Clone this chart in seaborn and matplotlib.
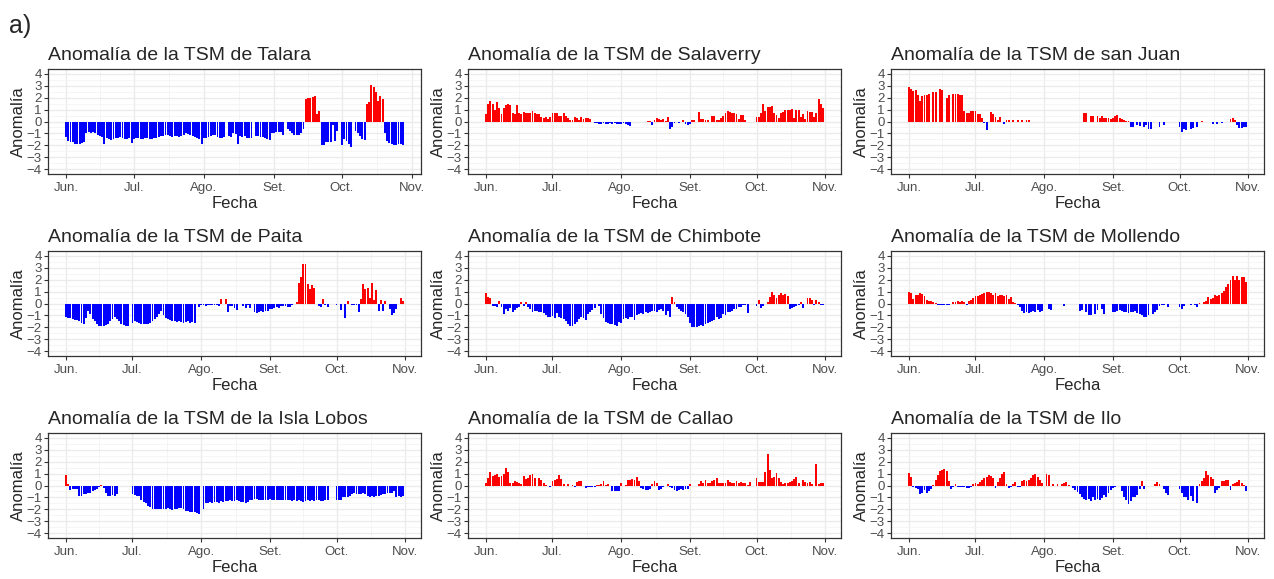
import numpy as np
import pandas as pd
import matplotlib
matplotlib.use('Agg')
import matplotlib.pyplot as plt
import seaborn as sns

n = np.nan

# anomalias diarias de la TSM, dia 0 = 1 de junio
talara = [-1.3,-1.6,-1.7,-1.75,-1.9,-1.85,-1.85,-1.8,-1.75,-0.95,
          -0.9,-0.95,-0.9,-1.0,-1.15,-1.25,-1.3,-1.9,-1.35,-1.45,
          -1.55,-1.5,-1.4,-1.35,-1.3,-1.4,-1.5,-1.45,-1.4,-1.8,
          -1.5,-1.4,-1.35,-1.45,-1.5,-1.4,-1.35,-1.5,-1.45,-1.4,
          -1.35,-1.3,-1.25,-1.2,-1.1,-1.15,-1.2,-1.3,-1.25,-1.2,
          -1.3,-1.25,-1.15,-1.0,-1.05,-1.1,-1.2,-1.3,-1.4,-1.5,
          -1.9,-1.4,-1.35,-1.3,-1.25,-1.15,-1.1,-1.3,-1.35,-1.4,
          -1.3,n,-1.2,-1.3,-1.0,-1.05,-1.9,-1.2,-1.3,-1.25,
          -1.35,-1.4,-1.4,n,-1.2,-1.25,-1.3,-1.3,-1.4,-1.5,
          -1.55,-0.95,-0.95,-0.9,-0.85,-0.9,-1.1,n,-0.6,-0.8,
          -1.0,-1.1,-1.15,-1.1,-1.0,-0.6,1.85,2.0,1.95,2.05,
          2.15,0.6,0.9,-1.95,-2.0,-1.7,-1.75,-1.7,-0.3,-1.6,
          -0.8,n,-2.0,-1.5,-1.6,-1.85,-2.1,n,-0.8,-1.0,
          -1.2,-1.5,-1.55,1.5,1.6,3.1,2.9,2.45,1.75,2.1,
          1.85,-1.0,-1.6,-1.8,-1.9,-2.0,-2.0,-1.85,-1.9,-2.0]

salaverry = [0.6,1.5,1.75,1.45,1.0,1.65,1.1,0.65,1.1,1.4,
             1.45,1.35,0.75,0.65,1.35,0.7,0.65,0.8,0.7,0.7,
             0.7,0.85,0.75,0.65,0.65,0.35,0.3,0.4,0.25,0.4,
             0.7,0.7,0.7,0.5,0.45,0.7,0.45,0.3,0.1,0.1,
             0.4,0.3,0.15,0.4,0.25,0.3,0.3,0.2,-0.05,-0.1,
             -0.15,-0.25,-0.2,-0.15,-0.2,-0.25,-0.15,-0.2,-0.15,-0.2,
             -0.25,-0.2,-0.15,-0.25,-0.3,-0.35,n,n,n,n,
             n,n,n,0.05,0.05,-0.3,0.1,0.3,0.25,0.15,
             0.2,0.05,0.35,-0.6,-0.45,-0.15,-0.05,-0.1,-0.05,0.1,
             -0.25,-0.3,-0.2,0.1,0.15,n,0.8,0.2,0.2,0.15,
             0.15,n,0.45,0.45,0.1,0.1,0.3,0.45,0.7,0.85,
             0.8,0.75,0.75,0.6,0.2,0.55,0.55,0.1,n,n,
             n,n,0.4,0.4,0.7,1.5,0.85,1.25,1.2,1.3,
             0.75,0.55,0.3,0.7,0.8,1.0,1.0,1.0,1.05,0.3,
             1.0,1.0,0.35,0.65,0.2,0.85,0.8,0.8,0.35,0.75,
             1.85,1.5,1.1]

san_juan = [2.85,2.7,2.55,2.6,2.2,1.75,2.1,2.25,2.25,2.3,
            n,2.45,2.45,n,2.75,2.65,n,1.95,2.2,n,
            2.3,2.3,2.3,2.25,2.2,0.85,0.75,0.75,0.85,0.85,
            0.85,0.6,0.65,0.3,-0.15,-0.7,n,0.8,0.65,0.4,
            0.1,0.35,n,-0.25,0.1,0.15,n,0.15,n,0.1,
            n,0.1,n,0.15,0.15,n,-0.05,n,n,n,
            n,n,n,n,n,n,n,n,n,n,
            n,n,n,n,n,n,n,n,n,0.7,
            0.7,n,0.45,0.45,n,0.45,0.3,0.45,0.3,0.3,
            0.3,0.2,0.3,0.45,0.55,0.3,0.2,0.1,0.05,0.05,
            -0.5,-0.45,n,-0.3,-0.4,n,-0.45,-0.3,-0.6,-0.65,
            n,n,n,-0.45,n,-0.3,n,n,n,n,
            n,n,-0.45,-0.85,-0.6,-0.7,n,-0.6,-0.55,n,
            -0.45,n,0.05,n,-0.05,-0.05,n,-0.2,n,-0.25,
            n,-0.15,-0.05,n,n,0.2,0.3,0.15,-0.3,-0.55,
            -0.55,-0.5,-0.45]

paita = [-1.15,-1.2,-1.25,-1.3,-1.35,-1.4,-1.5,-1.6,-1.7,-1.2,
         -0.6,-0.9,-1.3,-1.5,-1.7,-1.85,-1.9,-1.85,-1.8,-1.75,
         -1.5,-1.3,-1.15,-1.3,-1.5,-1.7,-1.8,-1.9,-1.9,n,
         -1.6,-1.5,-1.55,-1.65,-1.75,-1.7,-1.75,-1.7,-1.6,-1.5,
         -1.3,-1.1,-0.9,-0.6,-1.0,-1.2,-1.3,-1.4,-1.45,-1.5,
         -1.55,-1.5,-1.55,-1.6,-1.55,-1.5,-1.6,-1.55,-1.6,n,
         -0.3,-0.15,-0.1,-0.2,-0.1,-0.15,-0.1,-0.15,-0.1,-0.2,
         0.35,n,0.35,-0.75,-0.2,-0.2,-0.35,-0.55,n,n,
         -0.2,-0.35,-0.15,-0.4,n,-0.7,-0.8,-0.75,-0.65,-0.7,
         -0.6,-0.6,-0.45,-0.45,-0.35,-0.3,-0.35,-0.25,-0.2,-0.25,
         -0.3,-0.3,-0.15,-0.05,0.1,1.7,2.25,3.35,3.3,1.6,
         1.25,1.55,1.3,n,-0.2,-0.3,0.35,-0.15,-0.3,n,
         n,n,-0.1,n,-0.55,n,-1.2,0.2,n,-0.1,
         -0.1,-0.15,-0.75,0.35,1.65,1.25,1.3,0.5,1.75,0.3,
         1.1,-0.65,0.3,-0.65,0.2,n,-0.5,-1.0,-0.8,-0.5,
         n,0.45,0.25]

chimbote = [0.85,0.55,0.5,-0.2,-0.25,-0.3,0.2,-0.3,-0.9,-0.5,
            -0.6,-0.4,-0.7,-0.55,-0.4,-0.3,0.15,-0.2,0.15,-0.3,
            -0.5,-0.75,-0.6,-0.6,-0.7,-0.75,-0.8,-1.0,-1.15,-1.15,
            -1.05,-1.2,-0.8,-1.1,-1.2,-1.3,-1.5,-1.7,-1.85,-1.85,
            -1.75,-1.55,-1.3,-1.1,-1.2,-1.35,-0.9,-0.7,-0.55,-0.4,
            n,-0.2,-0.85,-1.2,-1.55,-1.65,-1.7,-1.7,-1.8,-1.85,
            -1.55,-1.6,-1.3,-1.2,-1.3,-1.1,-1.15,-1.35,-1.0,-0.85,
            -0.8,-0.9,-0.75,-0.8,-0.75,-0.65,-0.6,-0.7,-0.55,-0.5,
            -0.6,-1.0,-0.65,-1.1,0.55,0.15,-0.3,-0.45,-0.6,-0.7,
            -0.9,-1.1,-1.6,-1.95,-2.0,-1.95,-1.9,-1.8,-1.85,-1.7,
            -1.6,-1.55,-1.5,-1.4,-1.1,-1.3,-1.2,-0.85,-1.0,-0.7,
            -0.75,-0.6,-0.5,-0.45,-0.3,-0.3,-0.15,-0.1,-0.8,n,
            n,n,-0.2,0.3,-0.4,-0.25,n,0.15,0.55,0.95,
            0.7,0.5,0.75,0.85,0.7,0.8,0.6,-0.45,-0.35,-0.3,
            -0.25,-0.1,0.1,-0.35,n,0.5,0.45,0.3,-0.1,0.3,
            0.15,-0.15,-0.1]

mollendo = [1.0,0.85,0.4,0.7,0.75,0.85,0.8,0.6,0.3,0.25,
            0.2,0.1,0.05,-0.1,-0.15,-0.1,-0.15,-0.1,-0.1,-0.05,
            0.1,0.15,0.2,0.15,0.25,0.15,-0.15,0.2,0.3,0.5,
            0.6,0.65,0.75,0.8,0.85,0.95,1.0,0.9,0.75,0.85,
            0.65,0.75,0.7,0.6,0.7,0.4,0.55,0.1,0.05,-0.1,
            -0.3,-0.6,-0.8,-0.7,-0.8,-0.7,-0.65,-0.75,-0.55,-0.75,
            -0.6,n,n,-0.5,-0.55,n,n,n,n,n,
            -0.25,n,n,n,n,n,n,-0.65,-0.55,n,
            -0.7,-0.95,-1.0,n,-0.85,-0.55,n,-0.5,-0.9,n,
            n,n,-0.7,-0.75,-0.6,-0.55,-0.65,-0.7,-0.75,-0.8,
            -0.7,-0.75,-0.65,-0.8,-0.85,-0.95,-1.15,-1.1,-0.95,n,
            -0.9,-0.7,-0.55,-0.2,-0.15,-0.1,-0.05,-0.3,n,n,
            n,n,-0.3,-0.5,-0.2,-0.05,n,-0.1,-0.05,-0.1,
            -0.3,0.05,n,0.1,0.25,0.55,0.4,0.5,0.7,0.6,
            0.75,0.85,1.05,1.35,1.6,2.0,2.3,1.95,2.3,2.0,
            2.25,2.25,1.8]

isla_lobos = [0.85,0.15,-0.4,-0.3,-0.3,-0.3,-0.9,-0.9,-0.7,-0.7,
              -0.65,-0.6,-0.45,-0.35,-0.3,-0.15,0.05,-0.2,-0.6,-0.85,
              -0.9,-0.8,-0.85,-0.75,n,n,n,n,n,n,
              -0.75,-0.8,-0.85,-0.9,-1.2,-1.35,-1.5,-1.7,-1.8,-1.95,
              -2.0,-2.0,-2.0,-1.95,-2.0,-1.95,-1.9,-2.0,-2.05,-1.95,
              -2.0,-1.9,-1.85,-2.0,-2.1,-2.15,-2.2,-2.2,-2.25,-2.3,
              -2.4,n,-1.95,-1.5,-1.5,-1.4,-1.45,-1.4,-1.4,-1.45,
              -1.3,-1.35,-1.3,-1.3,-1.25,-1.3,-1.3,-1.25,-1.3,-1.35,
              -1.35,-1.5,-1.4,-1.25,-1.2,-1.1,-1.15,-1.2,-1.2,-1.25,
              -1.25,-1.2,-1.15,-1.2,-1.2,-1.25,-1.2,-1.2,-1.25,-1.25,
              -1.2,-1.25,-1.3,-1.25,-1.3,-1.25,-1.3,-1.35,-1.3,-1.25,
              -1.3,-1.25,-1.3,-1.2,-1.25,-1.3,-1.3,-1.2,-1.25,n,
              n,n,-1.2,-1.25,-1.2,-1.0,-1.0,-0.95,-0.85,-0.7,
              -0.65,-0.7,-0.7,-0.75,-0.65,-0.75,-0.85,-0.95,-0.9,-1.0,
              -0.85,-0.85,-0.8,-0.75,-0.7,-0.65,-0.6,-0.6,-0.5,-0.95,
              -0.9,-0.95,-0.9]

callao = [0.25,0.65,1.1,0.8,0.9,0.95,0.75,0.8,1.0,1.5,
          1.15,0.2,0.25,0.35,0.3,0.2,0.15,0.8,0.55,0.65,
          0.85,1.0,0.6,n,0.65,0.45,0.2,0.05,-0.05,-0.1,
          0.35,0.5,0.55,0.85,0.55,0.1,-0.05,0.1,n,0.05,
          -0.1,0.3,0.35,0.35,-0.05,-0.2,-0.1,-0.15,-0.15,-0.15,
          0.05,0.05,0.15,0.4,0.05,0.15,n,-0.45,-0.5,-0.5,
          -0.45,0.2,-0.05,0.05,0.45,0.45,0.55,0.45,0.7,0.35,
          -0.2,-0.3,-0.35,-0.35,-0.3,0.1,0.4,0.2,-0.4,-0.3,
          -0.15,n,0.15,-0.15,-0.2,-0.35,-0.45,-0.4,-0.3,-0.35,
          -0.3,-0.3,0.15,n,n,n,0.15,0.35,0.25,0.45,
          0.2,0.2,0.4,0.5,0.6,0.25,0.25,0.25,0.2,0.5,
          0.3,0.25,0.25,0.35,0.25,0.3,0.25,0.2,0.05,0.3,
          n,n,0.6,0.3,0.3,0.3,1.15,2.65,1.3,0.65,
          0.7,1.05,0.6,0.3,0.15,0.2,0.25,0.3,0.4,0.55,
          0.7,0.2,n,0.45,0.3,0.25,0.3,0.15,n,1.8,
          0.15,0.25,0.25]

ilo = [1.05,0.75,-0.15,-0.2,-0.3,-0.7,-0.6,-0.35,-0.65,-0.5,
       -0.3,0.05,0.5,0.85,1.2,1.3,1.35,1.25,0.35,-0.3,
       -0.15,0.1,-0.1,-0.1,-0.15,-0.1,-0.2,-0.25,-0.15,0.15,
       0.25,0.1,0.3,0.45,0.6,0.75,0.85,0.8,0.6,-0.2,
       0.3,0.65,0.95,1.15,0.15,-0.2,-0.1,0.15,0.3,-0.1,
       -0.1,0.35,0.45,0.4,0.5,0.6,0.85,0.95,0.75,0.5,
       0.2,n,0.95,0.85,n,0.15,n,0.1,n,0.15,
       0.25,0.3,0.05,-0.05,-0.2,-0.35,-0.55,-0.75,-0.95,-1.1,
       -1.2,-1.1,-1.3,-1.0,-1.25,-1.15,-1.25,-1.05,-0.8,-0.95,
       -0.6,-0.4,-0.25,-0.15,n,n,-0.5,-1.0,-1.2,-1.55,
       -1.3,-1.0,-0.95,-0.8,-0.3,0.35,-0.3,n,n,n,
       n,0.1,0.3,0.1,n,-0.3,-0.6,-0.8,n,n,
       n,n,-0.3,-0.6,-1.0,-1.0,-1.25,-0.9,-1.3,n,
       -1.45,0.1,0.35,0.6,1.25,0.85,0.7,0.55,-0.6,-0.4,
       -0.2,0.35,0.4,0.45,0.45,-0.4,0.1,0.25,0.3,0.45,
       0.2,0.05,-0.45]

estaciones = ['Talara', 'Salaverry', 'san Juan',
              'Paita', 'Chimbote', 'Mollendo',
              'la Isla Lobos', 'Callao', 'Ilo']
series = [talara, salaverry, san_juan, paita, chimbote, mollendo, isla_lobos, callao, ilo]

meses_pos = [0, 30, 61, 92, 122, 153]
meses_lab = ['Jun.', 'Jul.', 'Ago.', 'Set.', 'Oct.', 'Nov.']

sns.set_theme(style='white')
plt.rcParams['font.family'] = ['Liberation Sans', 'DejaVu Sans']

W, H = 1274, 579
fig = plt.figure(figsize=(W / 100, H / 100), dpi=100)

lefts = [48, 468, 891]
tops = [69, 251, 433]
pw, ph = 373, 105

for k, (nombre, vals) in enumerate(zip(estaciones, series)):
    r, c = divmod(k, 3)
    ax = fig.add_axes([lefts[c] / W, 1 - (tops[r] + ph) / H, pw / W, ph / H])
    df = pd.DataFrame({'dia': np.arange(len(vals)), 'anom': vals}).dropna()
    df['signo'] = np.where(df['anom'] > 0, 'pos', 'neg')
    sns.barplot(data=df, x='dia', y='anom', hue='signo',
                palette={'pos': '#FF0000', 'neg': '#0000FF'}, saturation=1,
                native_scale=True, dodge=False, width=0.85, errorbar=None,
                legend=False, linewidth=0, ax=ax)
    span = df['dia'].max() - df['dia'].min() + 0.9
    ax.set_xlim(df['dia'].min() - 0.45 - 0.05 * span, df['dia'].max() + 0.45 + 0.05 * span)
    ax.set_ylim(-4.4, 4.4)
    ax.set_yticks(range(-4, 5))
    ax.set_yticks(np.arange(-3.5, 4, 1), minor=True)
    ax.set_xticks(meses_pos)
    ax.set_xticklabels(meses_lab)
    ax.set_xticks([(a + b) / 2 for a, b in zip(meses_pos[:-1], meses_pos[1:])], minor=True)
    ax.set_axisbelow(True)
    ax.grid(which='major', color='#EBEBEB', linewidth=1.0)
    ax.grid(which='minor', color='#F2F2F2', linewidth=0.5)
    for s in ax.spines.values():
        s.set_color('#333333')
        s.set_linewidth(0.9)
    ax.tick_params(which='major', direction='out', length=3, width=0.8, color='#333333',
                   labelsize=9.5, labelcolor='#4D4D4D', pad=1.5, bottom=True, left=True)
    ax.tick_params(which='minor', length=0)
    ax.tick_params(axis='x', pad=2.5)
    ax.set_xlabel('Fecha', fontsize=12, labelpad=1.5)
    ax.set_ylabel('Anomalía', fontsize=12, labelpad=0.5)
    ax.set_title('Anomalía de la TSM de ' + nombre, loc='left', fontsize=14, pad=6.5)

fig.text(0.007, 0.975, 'a)', fontsize=18, va='top', ha='left')

fig.savefig('out.png', dpi=100)
